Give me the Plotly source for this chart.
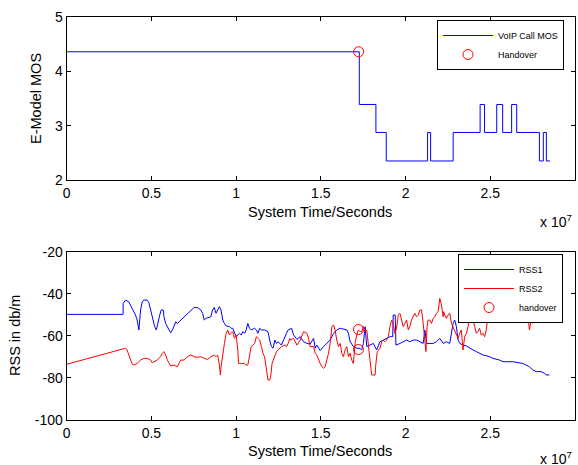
import plotly.graph_objects as go

# ---------------- data (time in units of 10^7 s) ----------------
mos_t = [0, 1.727, 1.825, 1.886, 2.13, 2.148, 2.281, 2.44, 2.466, 2.538,
         2.573, 2.626, 2.656, 2.79, 2.813, 2.831, 2.853]
mos_v = [4.36, 3.39, 2.875, 2.35, 2.875, 2.35, 2.875, 3.39, 2.875, 3.39,
         2.875, 3.39, 2.875, 2.35, 2.875, 2.35, 2.35]
ho1_t = [1.723]
ho1_v = [4.36]

rss1_t = [0, 0.333, 0.333, 0.347, 0.366, 0.386, 0.406, 0.416, 0.426, 0.436, 0.446, 0.455,
          0.475, 0.485, 0.495, 0.505, 0.519, 0.529, 0.539, 0.549, 0.558, 0.570, 0.574,
          0.584, 0.604, 0.614, 0.624, 0.634, 0.644, 0.653, 0.673, 0.693, 0.713, 0.733,
          0.752, 0.772, 0.792, 0.802, 0.812, 0.822, 0.842, 0.851, 0.861, 0.871, 0.881,
          0.891, 0.901, 0.911, 0.921, 0.931, 0.941, 0.960, 0.970, 0.980, 0.990, 1.000,
          1.010, 1.020, 1.030, 1.040, 1.050, 1.059, 1.069, 1.079, 1.089, 1.109, 1.119,
          1.129, 1.139, 1.149, 1.168, 1.188, 1.198, 1.208, 1.218, 1.228, 1.238, 1.248,
          1.267, 1.287, 1.297, 1.307, 1.327, 1.339, 1.359, 1.378, 1.398, 1.418, 1.437,
          1.457, 1.467, 1.476, 1.496, 1.516, 1.535, 1.555, 1.575, 1.594, 1.614, 1.653,
          1.663, 1.673, 1.692, 1.712, 1.731, 1.741, 1.751, 1.761, 1.771, 1.790, 1.810,
          1.829, 1.849, 1.869, 1.888, 1.908, 1.924, 1.927, 1.939, 1.943, 1.967, 1.986,
          2.006, 2.025, 2.045, 2.065, 2.084, 2.104, 2.114, 2.124, 2.163, 2.182, 2.202,
          2.222, 2.241, 2.261, 2.280, 2.290, 2.300, 2.310, 2.320, 2.339, 2.359, 2.378,
          2.398, 2.418, 2.437, 2.457, 2.496, 2.516, 2.555, 2.575, 2.633, 2.692, 2.731,
          2.751, 2.771, 2.800, 2.820, 2.829, 2.849]
rss1_v = [-49.8, -49.8, -44.6, -43.0, -43.8, -46.9, -50.1, -52.5, -57.2, -47.7, -43.8, -43.0,
          -43.0, -44.2, -47.7, -51.7, -55.6, -57.2, -53.3, -50.1, -47.7, -47.7, -50.9,
          -54.1, -57.2, -58.5, -57.2, -54.9, -53.3, -54.1, -52.5, -50.9, -49.3, -47.7,
          -46.5, -46.6, -47.7, -49.3, -52.5, -51.7, -50.9, -50.9, -47.7, -46.5, -49.3,
          -47.7, -46.1, -47.7, -52.5, -54.1, -55.3, -55.6, -56.4, -56.4, -58.8, -60.4,
          -59.6, -58.8, -59.6, -58.0, -58.8, -57.2, -54.1, -56.4, -57.2, -56.4, -57.2,
          -58.8, -56.4, -57.2, -57.2, -58.0, -62.0, -65.1, -65.9, -62.0, -63.6, -62.8,
          -64.4, -61.2, -58.8, -57.2, -56.4, -59.6, -61.7, -60.4, -62.8, -63.6, -63.9,
          -61.2, -65.9, -64.4, -67.0, -65.1, -63.6, -62.0, -58.8, -57.2, -56.4, -57.2,
          -58.8, -62.8, -65.1, -65.9, -65.9, -66.7, -63.6, -55.6, -65.1, -64.4, -63.6,
          -66.7, -62.8, -62.0, -61.2, -60.4, -60.4, -50.1, -50.1, -64.4, -63.6, -62.8,
          -62.0, -62.8, -62.0, -62.0, -62.8, -63.6, -57.2, -63.6, -63.6, -62.8, -61.2,
          -63.6, -62.8, -63.6, -54.1, -52.5, -55.6, -62.0, -63.6, -64.4, -64.8, -65.9,
          -66.7, -67.5, -68.3, -69.1, -69.9, -70.7, -71.5, -72.3, -72.3, -73.1, -74.7,
          -76.2, -77.0, -77.0, -77.8, -78.6, -78.6]

rss2_t = [0, 0.347, 0.356, 0.366, 0.376, 0.386, 0.396, 0.416, 0.436, 0.455, 0.475, 0.495,
          0.505, 0.515, 0.535, 0.554, 0.564, 0.574, 0.584, 0.594, 0.604, 0.614, 0.634,
          0.653, 0.663, 0.673, 0.693, 0.713, 0.733, 0.752, 0.772, 0.792, 0.812, 0.832,
          0.851, 0.871, 0.881, 0.891, 0.901, 0.907, 0.911, 0.921, 0.931, 0.941, 0.950,
          0.960, 0.970, 0.980, 0.990, 1.000, 1.010, 1.014, 1.050, 1.059, 1.069, 1.079,
          1.089, 1.099, 1.109, 1.119, 1.129, 1.139, 1.149, 1.158, 1.168, 1.178, 1.188,
          1.198, 1.204, 1.212, 1.228, 1.238, 1.248, 1.267, 1.287, 1.297, 1.307, 1.317,
          1.320, 1.339, 1.359, 1.378, 1.398, 1.418, 1.427, 1.437, 1.457, 1.467, 1.476,
          1.486, 1.496, 1.506, 1.516, 1.525, 1.535, 1.545, 1.555, 1.565, 1.575, 1.584,
          1.594, 1.604, 1.614, 1.624, 1.633, 1.643, 1.653, 1.663, 1.673, 1.682, 1.692,
          1.702, 1.712, 1.722, 1.731, 1.741, 1.751, 1.761, 1.771, 1.780, 1.790, 1.800,
          1.820, 1.825, 1.833, 1.849, 1.859, 1.869, 1.878, 1.888, 1.898, 1.908, 1.918,
          1.927, 1.937, 1.947, 1.957, 1.967, 1.976, 1.986, 1.996, 2.006, 2.016, 2.025,
          2.035, 2.045, 2.055, 2.065, 2.075, 2.084, 2.094, 2.104, 2.114, 2.120, 2.127,
          2.133, 2.143, 2.153, 2.163, 2.173, 2.182, 2.192, 2.202, 2.212, 2.222, 2.225,
          2.231, 2.241, 2.251, 2.261, 2.271, 2.280, 2.290, 2.300, 2.310, 2.320, 2.329,
          2.339, 2.349, 2.359, 2.369, 2.378, 2.382, 2.388, 2.398, 2.408, 2.418, 2.427,
          2.437, 2.447, 2.457, 2.467, 2.476, 2.486, 2.496, 2.506, 2.530, 2.560, 2.600,
          2.640, 2.667, 2.676, 2.695, 2.705, 2.715, 2.725, 2.731, 2.735, 2.741, 2.749,
          2.755]
rss2_v = [-73.5, -65.9, -66.7, -69.1, -71.5, -73.4, -73.9, -73.1, -71.5, -70.7, -70.7, -71.5,
          -72.8, -72.3, -71.5, -69.9, -68.3, -67.5, -69.1, -71.5, -73.1, -74.3, -73.9,
          -74.7, -73.1, -71.5, -71.5, -69.9, -69.1, -69.9, -70.2, -69.9, -70.7, -71.2,
          -69.9, -69.1, -69.9, -69.1, -73.9, -78.6, -74.7, -68.3, -63.6, -58.8, -57.2,
          -59.6, -58.8, -58.0, -61.2, -59.6, -66.7, -73.1, -73.1, -73.9, -73.9, -68.3,
          -65.1, -64.4, -63.6, -60.4, -61.2, -62.0, -65.1, -68.3, -69.9, -74.7, -81.0,
          -81.0, -79.4, -73.1, -69.9, -67.5, -66.7, -65.1, -64.4, -65.1, -63.6, -61.2,
          -62.0, -61.2, -64.4, -62.0, -58.0, -58.8, -61.2, -65.1, -65.1, -68.3, -69.1,
          -71.5, -73.1, -74.7, -75.4, -74.7, -71.5, -68.3, -63.6, -55.6, -54.9, -57.2,
          -62.0, -65.1, -63.6, -68.3, -69.9, -66.7, -65.1, -69.9, -68.3, -71.5, -73.1,
          -63.6, -59.6, -57.2, -58.0, -58.0, -55.6, -58.0, -57.2, -65.1, -71.5, -78.6,
          -78.6, -73.1, -67.5, -65.9, -62.8, -62.0, -62.8, -62.0, -60.4, -55.6, -52.5,
          -54.1, -58.8, -56.4, -50.1, -49.3, -52.5, -55.6, -54.1, -52.5, -57.2, -55.6,
          -52.5, -50.9, -49.3, -50.9, -50.1, -47.7, -47.7, -54.1, -65.1, -67.5, -55.6,
          -52.5, -52.5, -54.1, -51.7, -50.9, -49.3, -48.5, -42.2, -45.3, -50.9, -48.5,
          -50.1, -51.7, -50.1, -49.3, -54.1, -55.6, -57.2, -59.6, -61.2, -58.8, -57.2,
          -66.7, -60.4, -58.8, -55.6, -50.9, -46.1, -50.1, -52.5, -55.6, -58.8, -58.0,
          -56.4, -59.6, -58.8, -60.4, -57.2, -50.9, -48.5, -46.9, -43.0, -41.0, -44.0,
          -42.0, -40.0, -44.5, -46.1, -49.3, -50.9, -52.5, -57.2, -54.0, -52.5, -54.0,
          -38.2]
ho2_t = [1.722, 1.722]
ho2_v = [-57.0, -66.5]

x_ticks = [0, 0.5, 1, 1.5, 2, 2.5, 3]
x_ticktext = ["0", "0.5", "1", "1.5", "2", "2.5", "3"]
y1_ticks = [2, 3, 4, 5]
y2_ticks = [-100, -80, -60, -40, -20]
y2_ticktext = ["-100", "-80", "-60", "-40", "-20"]

FONT = "Liberation Sans, Arial, Helvetica, sans-serif"
W, H = 578, 465

fig = go.Figure()
fig.add_trace(go.Scatter(x=mos_t, y=mos_v, mode="lines", line=dict(color="#0000ff", width=1, shape="hv"),
                         name="VoIP Call MOS", xaxis="x", yaxis="y", legend="legend"))
fig.add_trace(go.Scatter(x=ho1_t, y=ho1_v, mode="markers",
                         marker=dict(symbol="circle-open", color="#ff0000", size=10, line=dict(width=1)),
                         name="Handover", xaxis="x", yaxis="y", legend="legend"))
fig.add_trace(go.Scatter(x=rss1_t, y=rss1_v, mode="lines", line=dict(color="#0000ff", width=1),
                         name="RSS1", xaxis="x2", yaxis="y2", legend="legend2"))
fig.add_trace(go.Scatter(x=rss2_t, y=rss2_v, mode="lines", line=dict(color="#ff0000", width=1),
                         name="RSS2", xaxis="x2", yaxis="y2", legend="legend2"))
fig.add_trace(go.Scatter(x=ho2_t, y=ho2_v, mode="markers",
                         marker=dict(symbol="circle-open", color="#ff0000", size=10, line=dict(width=1)),
                         name="handover", xaxis="x2", yaxis="y2", legend="legend2"))

xd = [66.7 / W, 575 / W]
axis_common = dict(showgrid=False, zeroline=False, showline=True, linecolor="black", linewidth=1.2,
                   mirror="ticks", ticks="inside", ticklen=4, tickcolor="black", tickwidth=1,
                   automargin=False,
                   tickfont=dict(family=FONT, size=14, color="black"))

fig.update_layout(
    width=W, height=H, margin=dict(l=0, r=0, t=0, b=0, autoexpand=False),
    paper_bgcolor="white", plot_bgcolor="white",
    font=dict(family=FONT, size=14, color="black"),
    xaxis=dict(domain=xd, anchor="y", range=[0, 3], tickvals=x_ticks, ticktext=x_ticktext, **axis_common),
    yaxis=dict(domain=[1 - 180 / H, 1 - 17 / H], anchor="x", range=[2, 5], tickvals=y1_ticks, **axis_common),
    xaxis2=dict(domain=xd, anchor="y2", range=[0, 3], tickvals=x_ticks, ticktext=x_ticktext, **axis_common),
    yaxis2=dict(domain=[1 - 420 / H, 1 - 251.7 / H], anchor="x2", range=[-100, -20],
                tickvals=y2_ticks, ticktext=y2_ticktext, **axis_common),
    legend=dict(x=564 / W, y=1 - 20 / H, xanchor="right", yanchor="top", bgcolor="white",
                bordercolor="black", borderwidth=1, font=dict(family=FONT, size=9, color="black"),
                itemwidth=50, tracegroupgap=0),
    legend2=dict(x=563 / W, y=1 - 254 / H, xanchor="right", yanchor="top", bgcolor="white",
                 bordercolor="black", borderwidth=1, font=dict(family=FONT, size=9, color="black"),
                 itemwidth=50, tracegroupgap=0),
    showlegend=True,
)

annots = [
    dict(text="System Time/Seconds", x=320 / W, y=1 - 212 / H),
    dict(text="System Time/Seconds", x=320 / W, y=1 - 451 / H),
    dict(text="E-Model MOS", x=36 / W, y=1 - 99 / H, textangle=-90),
    dict(text="RSS in db/m", x=15 / W, y=1 - 336 / H, textangle=-90),
]
for a in annots:
    fig.add_annotation(xref="paper", yref="paper", showarrow=False, xanchor="center", yanchor="middle",
                       font=dict(family=FONT, size=14.5, color="black"), **a)
for yy in [221, 458]:
    fig.add_annotation(xref="paper", yref="paper", showarrow=False, xanchor="left", yanchor="middle",
                       x=538 / W, y=1 - yy / H, text="x 10<sup>7</sup>",
                       font=dict(family=FONT, size=14, color="black"))

fig.write_html("out.html", config={"displayModeBar": False},
               post_script="document.body.style.margin='0';document.body.style.overflow='hidden';")
